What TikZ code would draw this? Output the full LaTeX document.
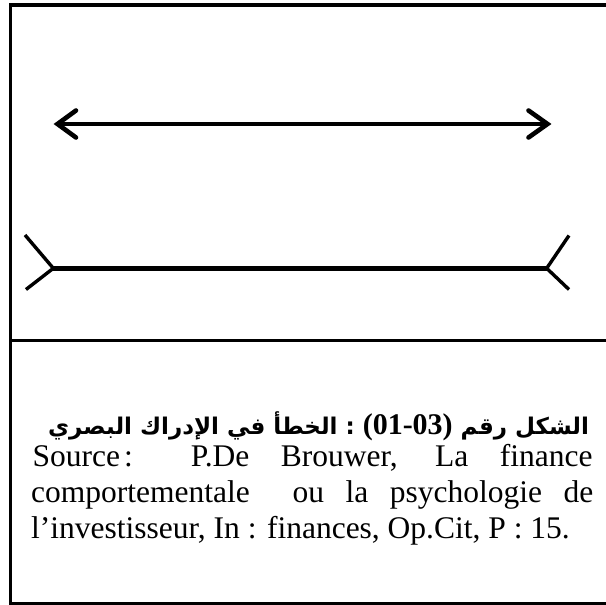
\documentclass[tikz,border=0pt]{standalone}
\usepackage{fontspec}
\setmainfont{Liberation Serif}
\newfontfamily\arabicfont[Script=Arabic]{DejaVu Sans}
\TeXXeTstate=1
\usetikzlibrary{calc}
\tikzset{
  frameline/.style={line width=3.2pt, line join=miter},
  divline/.style={line width=2.6pt},
  arrowline/.style={line width=4.6pt, line cap=round, line join=miter, miter limit=10},
  mainline/.style={line width=5pt},
  finline/.style={line width=3.4pt, line cap=butt, line join=miter, miter limit=10},
  srcline/.style={anchor=base west, inner sep=0pt, font=\fontsize{31.5}{36}\selectfont},
}
\begin{document}
\begin{tikzpicture}[x=1pt,y=1pt]
\useasboundingbox (0,0) rectangle (606,-605);
\clip (0,0) rectangle (606,-605);
\fill[white] (0,0) rectangle (606,-605);
% frame
\coordinate (ftr) at (612,-5);
\coordinate (ftl) at (10.8,-5);
\coordinate (fbl) at (10.8,-603.6);
\coordinate (fbr) at (612,-603.6);
\draw[frameline] (ftr) -- (ftl) -- (fbl) -- (fbr);
\coordinate (dl) at (10.8,-340.7);
\coordinate (dr) at (612,-340.7);
\draw[divline] (dl) -- (dr);
% double arrow
\coordinate (al) at (57.5,-124);
\coordinate (ar) at (547.5,-124);
\draw[arrowline, line cap=butt] (al) -- (ar);
\draw[arrowline] ($(al)+(18.5,13.5)$) -- (al) -- ($(al)+(18.5,-13.5)$);
\draw[arrowline] ($(ar)+(-19,13.5)$) -- (ar) -- ($(ar)+(-19,-13.5)$);
% line with outward fins
\coordinate (bl) at (53.3,-268.3);
\coordinate (br) at (546.7,-268.3);
\draw[mainline] (bl) -- (br);
\draw[finline] (25,-235) -- (bl) -- (26,-289.5);
\draw[finline] (569,-235.5) -- (br) -- (569,-289.5);
% caption (segments laid out in visual order, left to right)
\node[anchor=base, inner sep=0pt] (title) at (318.5,-434)
  {\arabicfont\bfseries\fontsize{23}{28}\selectfont
   \beginR الخطأ في الإدراك البصري\endR\ :\ {\rmfamily\bfseries\fontsize{30}{34}\selectfont(01-03)}\ \beginR الشكل رقم\endR};
\node[srcline] (src1) at (32.5,-466) {\makebox[560pt][s]{Source\kern4pt: P.De Brouwer, La finance}};
\node[srcline] (src2) at (31,-502) {\makebox[562pt][s]{comportementale\ \ ou la psychologie de}};
\node[srcline] (src3) at (31,-538) {l’investisseur, In : finances, Op.Cit, P : 15.};
\end{tikzpicture}
\end{document}
